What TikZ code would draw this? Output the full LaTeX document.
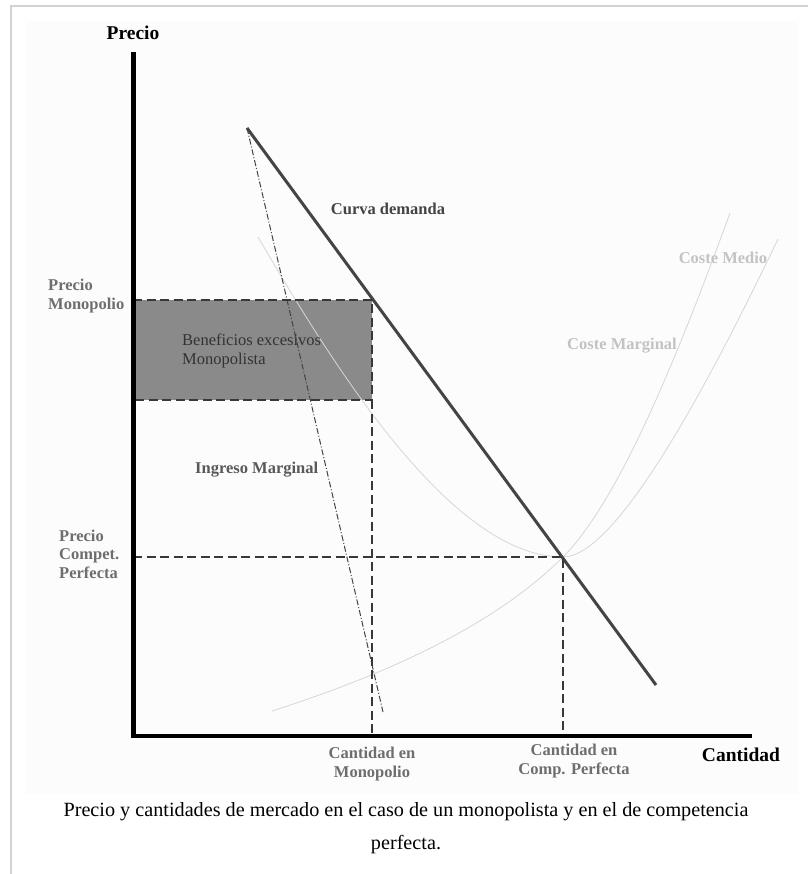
\documentclass[tikz,border=0pt]{standalone}
\usepackage{fontspec}
\setmainfont{Liberation Serif}
\usetikzlibrary{positioning}
\definecolor{framegray}{RGB}{210,210,210}
\definecolor{bggray}{RGB}{252,252,252}
\definecolor{curvedark}{RGB}{68,68,68}
\definecolor{costlight}{RGB}{215,215,215}
\definecolor{boxgray}{RGB}{138,138,138}
\definecolor{tagmid}{RGB}{110,110,110}
\definecolor{taglight}{RGB}{195,195,195}

\begin{document}
\begin{tikzpicture}[x=1pt, y=-1pt,
    axisline/.style={line width=5pt, black},
    guide/.style={dash pattern=on 9pt off 4.5pt, line width=2.5pt, draw=black!78},
    costcurve/.style={line width=0.8pt, costlight},
    tag/.style={font=\fontsize{16.5}{18.5}\selectfont\bfseries, inner sep=0pt},
    bigtag/.style={font=\fontsize{19.5}{22}\selectfont\bfseries, inner sep=0pt}]
  \useasboundingbox (0,0) rectangle (808,874);
  % marco
  \fill[bggray] (26,21) rectangle (798,794);
  \draw[framegray, line width=1.5pt] (11,874) -- (11,6) -- (808,6);
  % puntos
  \coordinate (O) at (133,736);
  \coordinate (Ytop) at (133,52);
  \coordinate (Xend) at (752,736);
  \coordinate (Dtop) at (247,128);
  \coordinate (Dbot) at (656,685);
  \coordinate (MRbot) at (383,712);
  \coordinate (Pm) at (133,300);
  \coordinate (Mtop) at (372,300);
  \coordinate (Mbot) at (372,400);
  \coordinate (Pb) at (133,400);
  \coordinate (Pc) at (133,557);
  \coordinate (E) at (563,557);
  \coordinate (Qm) at (372,736);
  \coordinate (Qc) at (563,736);
  % beneficios
  \fill[boxgray] (Pm) rectangle (Mbot);
  % costes
  \draw[costcurve] (258,237) .. controls (330,360) and (450,557) .. (E)
                   .. controls (620,557) and (720,360) .. (778,239);
  \draw[costcurve] (272,711) .. controls (400,670) and (500,620) .. (E)
                   .. controls (620,500) and (680,350) .. (730,213);
  % demanda e ingreso marginal
  \draw[curvedark, line width=3pt] (Dtop) -- (Dbot);
  \draw[curvedark, line width=1pt, dash pattern=on 6pt off 2pt on 1pt off 2pt] (Dtop) -- (MRbot);
  % guias
  \draw[guide] (Pm) -- (Mtop) -- (Mbot) -- (Pb);
  \draw[guide] (Mbot) -- (Qm);
  \draw[guide] (Pc) -- (E) -- (Qc);
  % ejes
  \draw[axisline] (Ytop) -- (133,738);
  \draw[line width=4pt, black] (131,736) -- (Xend);
  % textos
  \node[bigtag, above=12pt of Ytop] (precio) {Precio};
  \node[bigtag, anchor=center] (cantidad) at (741,755) {Cantidad};
  \node[tag, curvedark] (demanda) at (388,209) {Curva demanda};
  \node[tag, tagmid, align=left, anchor=west] (pmono) at (48,296) {Precio\\Monopolio};
  \node[tag, tagmid, align=left, anchor=west] (pcomp) at (59,554) {Precio\\Compet.\\Perfecta};
  \node[tag, font=\fontsize{16.5}{18.5}\selectfont, black!80, align=left, anchor=west] (benef) at (182,351) {Beneficios excesivos\\Monopolista};
  \node[tag, black!65, anchor=west] (img) at (195,470) {Ingreso Marginal};
  \node[tag, taglight] (cmg) at (622,346) {Coste Marginal};
  \node[tag, taglight] (cme) at (723,258) {Coste Medio};
  \node[tag, tagmid, align=center, below=11pt of Qm] (qmono) {Cantidad en\\Monopolio};
  \node[tag, tagmid, align=center, anchor=north] (qcomp) at (574,744) {Cantidad en\\Comp. Perfecta};
  % pie
  \node[font=\fontsize{20.2}{33}\selectfont, align=center] (pie) at (406,828)
    {Precio y cantidades de mercado en el caso de un monopolista y en el de competencia\\perfecta.};
\end{tikzpicture}
\end{document}
